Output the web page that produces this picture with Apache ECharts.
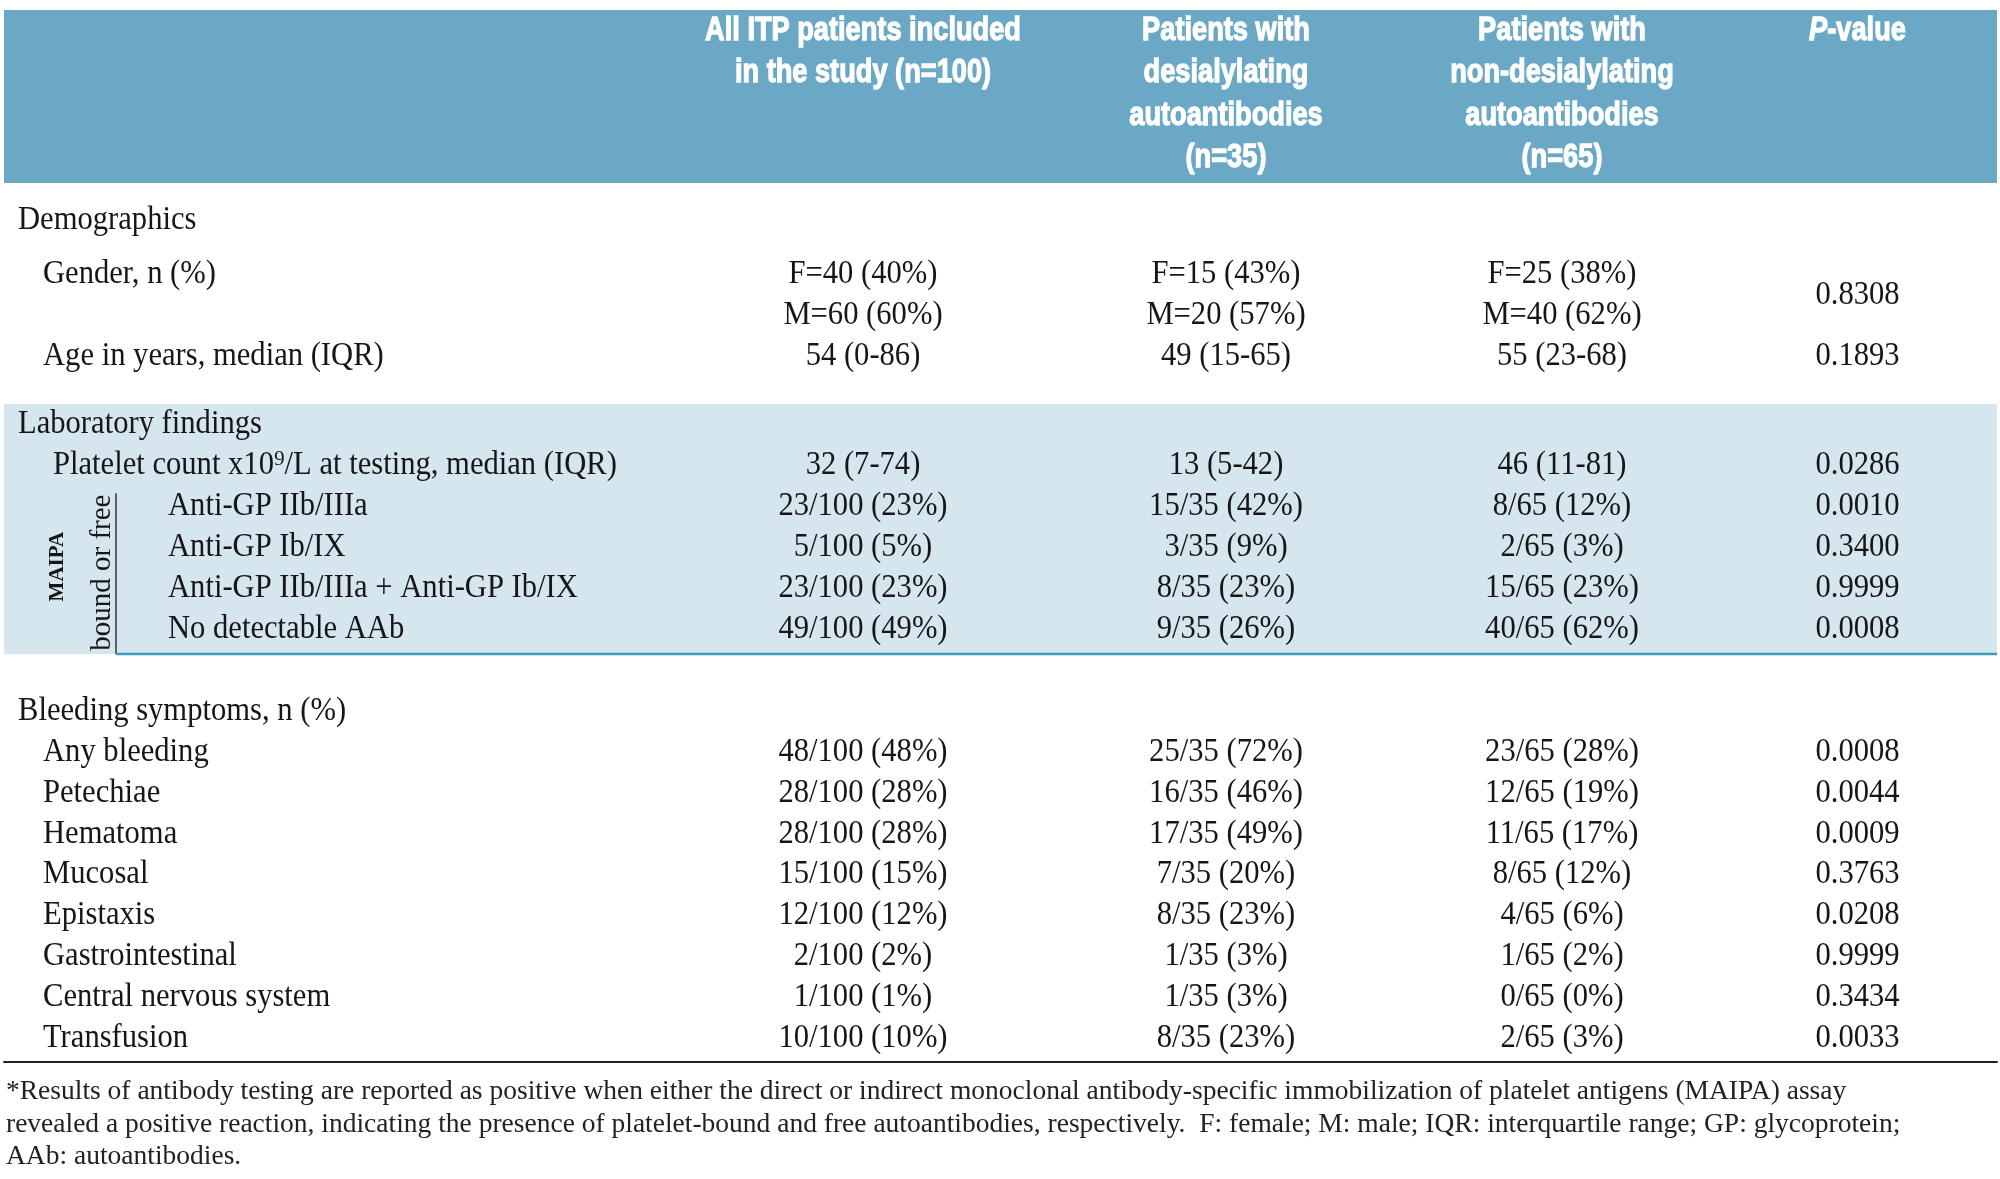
<!DOCTYPE html>
<html>
<head>
<meta charset="utf-8">
<title>ITP patients - desialylating autoantibodies</title>
<script src="https://cdn.jsdelivr.net/npm/echarts@6.0.0/dist/echarts.min.js"></script>
<style>
  html, body { margin: 0; padding: 0; background: #fff; }
  #main { width: 2000px; height: 1179px; }
</style>
</head>
<body>
<div id="main"></div>
<script>
// ---- table content ----
var headers = [
  'All ITP patients included\nin the study (n=100)',
  'Patients with\ndesialylating\nautoantibodies\n(n=35)',
  'Patients with\nnon-desialylating\nautoantibodies\n(n=65)',
  '{i|P}-value'
];

var rowLabels = [
  'Demographics',
  'Gender, n (%)',
  '',
  'Age in years, median (IQR)',
  'Laboratory findings',
  'Platelet count x10⁹/L at testing, median (IQR)',
  'Anti-GP IIb/IIIa',
  'Anti-GP Ib/IX',
  'Anti-GP IIb/IIIa + Anti-GP Ib/IX',
  'No detectable AAb',
  'Bleeding symptoms, n (%)',
  'Any bleeding',
  'Petechiae',
  'Hematoma',
  'Mucosal',
  'Epistaxis',
  'Gastrointestinal',
  'Central nervous system',
  'Transfusion'
];
var rowLevel = [0, 1, 1, 1, 0, 2, 3, 3, 3, 3, 0, 1, 1, 1, 1, 1, 1, 1, 1];

var allPatients = ['', 'F=40 (40%)', 'M=60 (60%)', '54 (0-86)', '', '32 (7-74)',
  '23/100 (23%)', '5/100 (5%)', '23/100 (23%)', '49/100 (49%)', '',
  '48/100 (48%)', '28/100 (28%)', '28/100 (28%)', '15/100 (15%)', '12/100 (12%)',
  '2/100 (2%)', '1/100 (1%)', '10/100 (10%)'];
var desialylating = ['', 'F=15 (43%)', 'M=20 (57%)', '49 (15-65)', '', '13 (5-42)',
  '15/35 (42%)', '3/35 (9%)', '8/35 (23%)', '9/35 (26%)', '',
  '25/35 (72%)', '16/35 (46%)', '17/35 (49%)', '7/35 (20%)', '8/35 (23%)',
  '1/35 (3%)', '1/35 (3%)', '8/35 (23%)'];
var nonDesialylating = ['', 'F=25 (38%)', 'M=40 (62%)', '55 (23-68)', '', '46 (11-81)',
  '8/65 (12%)', '2/65 (3%)', '15/65 (23%)', '40/65 (62%)', '',
  '23/65 (28%)', '12/65 (19%)', '11/65 (17%)', '8/65 (12%)', '4/65 (6%)',
  '1/65 (2%)', '0/65 (0%)', '2/65 (3%)'];
// null = cell merged with the row above
var pValues = ['', '0.8308', null, '0.1893', '', '0.0286',
  '0.0010', '0.3400', '0.9999', '0.0008', '',
  '0.0008', '0.0044', '0.0009', '0.3763', '0.0208',
  '0.9999', '0.3434', '0.0033'];

var maipaRows = [6, 9];      // first / last row of the MAIPA group
var shadedRows = [4, 9];     // "Laboratory findings" block

var footnote = '*Results of antibody testing are reported as positive when either the direct or indirect monoclonal antibody-specific immobilization of platelet antigens (MAIPA) assay\n' +
  'revealed a positive reaction, indicating the presence of platelet-bound and free autoantibodies, respectively.  F: female; M: male; IQR: interquartile range; GP: glycoprotein;\n' +
  'AAb: autoantibodies.';

// ---- layout ----
var colWidths = [676, 366, 360, 312, 279];
var rowSteps = [0, 4, 3, 3, 5, 3, 3, 3, 3, 3, 6, 3, 3, 3, 3, 3, 3, 3, 3]; // in thirds of a line
var indent = [14, 39, 49, 164];
var bodyFont = 'Liberation Serif';
var headFont = 'Liberation Sans';
var ink = '#161616';

var total = 0, colCenter = [];
colWidths.forEach(function (w) { colCenter.push(total + w / 2); total += w; });

var rowSlot = [], s = 0;
rowSteps.forEach(function (d) { s += d; rowSlot.push(s); });
var slots = [];
for (var i = 0; i <= s; i++) slots.push('r' + i);

var myChart = echarts.init(document.getElementById('main'));

function cellText(x, y, text, opt) {
  opt = opt || {};
  return {
    type: 'text',
    x: x, y: y,
    scaleX: opt.scaleX == null ? 0.9 : opt.scaleX,
    rotation: opt.rotation || 0,
    style: {
      text: text,
      fill: ink,
      fontFamily: bodyFont,
      fontSize: opt.fontSize || 34,
      fontWeight: opt.fontWeight || 'normal',
      align: opt.align || 'center',
      verticalAlign: 'middle'
    }
  };
}

function columnSeries(name, values, col) {
  return {
    name: name,
    type: 'custom',
    data: values.map(function (v, i) { return [colCenter[col], rowSlot[i]]; }),
    renderItem: function (params, api) {
      var i = params.dataIndex;
      var v = values[i];
      if (!v) return null;
      var p = api.coord([api.value(0), api.value(1)]);
      var y = p[1];
      if (i + 1 < values.length && values[i + 1] === null) {
        y = (y + api.coord([api.value(0), rowSlot[i + 1]])[1]) / 2;
      }
      return cellText(p[0], y, v);
    },
    z: 5
  };
}

option = {
  animation: false,
  title: {
    text: footnote,
    left: 6,
    top: 1076,
    padding: 0,
    textStyle: {
      fontFamily: bodyFont,
      fontSize: 27.5,
      fontWeight: 'normal',
      color: '#222',
      lineHeight: 32.5
    }
  },
  graphic: [{
    type: 'rect',
    z: -10,
    shape: { x: 4, y: 10, width: 1993, height: 173 },
    style: { fill: '#6aa8c5' }
  }],
  grid: { left: 4, right: 3, top: 213, bottom: 134 },
  xAxis: [{
    type: 'value',
    min: 0,
    max: total,
    show: false
  }, {
    // closing rule under the table
    type: 'value',
    min: 0,
    max: total,
    position: 'bottom',
    offset: 17,
    axisLine: { show: true, lineStyle: { color: '#222', width: 2 } },
    axisTick: { show: false },
    axisLabel: { show: false },
    splitLine: { show: false }
  }],
  yAxis: {
    type: 'category',
    inverse: true,
    data: slots,
    show: false
  },
  series: [
    {
      name: 'header',
      type: 'custom',
      data: headers.map(function (h, k) { return [colCenter[k + 1], 0]; }),
      renderItem: function (params, api) {
        var p = api.coord([api.value(0), api.value(1)]);
        return {
          type: 'text',
          x: p[0],
          y: params.coordSys.y - 204,
          scaleX: 0.8,
          style: {
            text: headers[params.dataIndex],
            fill: '#fff',
            stroke: '#fff',
            lineWidth: 1.3,
            fontFamily: headFont,
            fontWeight: 'bold',
            fontSize: 34,
            lineHeight: 42.5,
            align: 'center',
            verticalAlign: 'top',
            rich: {
              i: { fill: '#fff', stroke: '#fff', lineWidth: 1.3, fontFamily: headFont, fontWeight: 'bold', fontStyle: 'italic', fontSize: 34, lineHeight: 42.5 }
            }
          }
        };
      },
      z: 10
    },
    {
      name: 'shade',
      type: 'custom',
      data: [[0, rowSlot[shadedRows[0]], rowSlot[shadedRows[1]]]],
      renderItem: function (params, api) {
        var a = api.coord([0, api.value(1)]);
        var b = api.coord([total, api.value(2)]);
        var top = a[1] - 20.5, bottom = b[1] + 25;
        return {
          type: 'rect',
          shape: { x: a[0], y: top, width: b[0] - a[0], height: bottom - top },
          style: { fill: '#d5e6ef' }
        };
      },
      z: 1
    },
    {
      name: 'maipa',
      type: 'custom',
      data: [[0, rowSlot[maipaRows[0]], rowSlot[maipaRows[1]]]],
      renderItem: function (params, api) {
        var a = api.coord([0, api.value(1)]);
        var b = api.coord([0, api.value(2)]);
        var right = api.coord([total, api.value(2)])[0];
        var mid = (a[1] + b[1]) / 2;
        var lineX = a[0] + 112;
        var bottom = b[1] + 25;
        return {
          type: 'group',
          children: [
            { type: 'line', shape: { x1: lineX, y1: a[1] - 13, x2: lineX, y2: bottom }, style: { stroke: '#333', lineWidth: 1.5 } },
            { type: 'line', shape: { x1: lineX, y1: bottom, x2: right, y2: bottom }, style: { stroke: '#3d9bc0', lineWidth: 2.5 } },
            cellText(a[0] + 54, mid - 1, 'MAIPA', { rotation: Math.PI / 2, fontSize: 21, fontWeight: 'bold', scaleX: 1 }),
            cellText(a[0] + 98, mid + 5, 'bound or free', { rotation: Math.PI / 2, fontSize: 29, scaleX: 1 })
          ]
        };
      },
      z: 3
    },
    {
      name: 'labels',
      type: 'custom',
      data: rowLabels.map(function (t, i) { return [0, rowSlot[i]]; }),
      renderItem: function (params, api) {
        var t = rowLabels[params.dataIndex];
        if (!t) return null;
        var p = api.coord([api.value(0), api.value(1)]);
        return cellText(p[0] + indent[rowLevel[params.dataIndex]], p[1], t, { align: 'left' });
      },
      z: 5
    },
    columnSeries('All ITP patients', allPatients, 1),
    columnSeries('Desialylating', desialylating, 2),
    columnSeries('Non-desialylating', nonDesialylating, 3),
    columnSeries('P-value', pValues, 4)
  ]
};

myChart.setOption(option);
</script>
</body>
</html>
